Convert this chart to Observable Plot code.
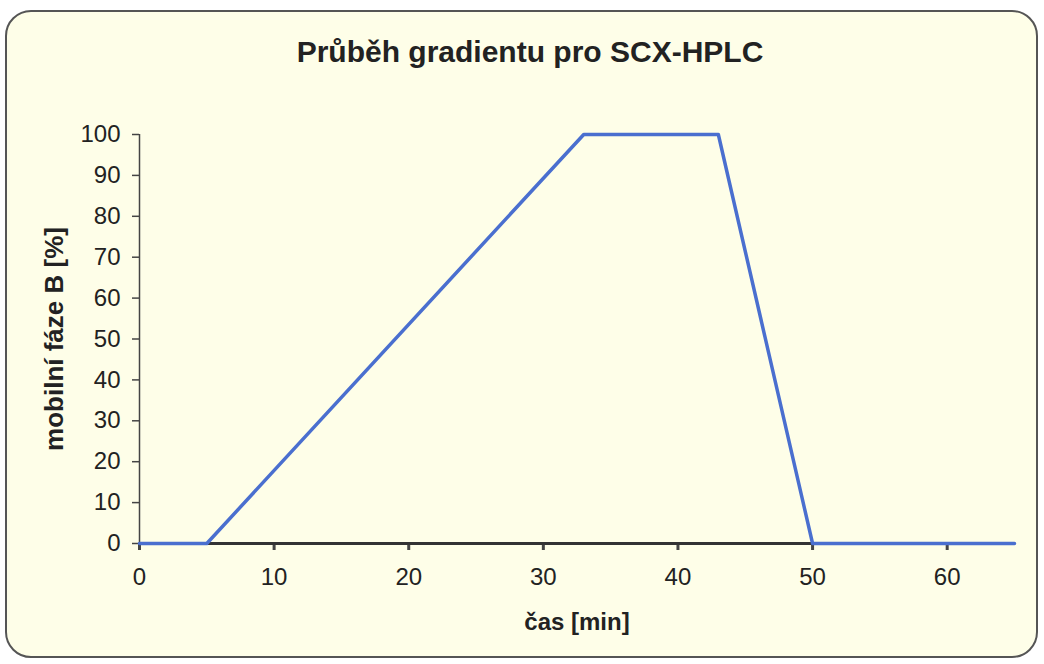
<!DOCTYPE html>
<html><head><meta charset="utf-8">
<script src="https://cdn.jsdelivr.net/npm/d3@7"></script>
<script src="https://cdn.jsdelivr.net/npm/@observablehq/plot@0.6"></script>
<style>
body{margin:0;background:#fff;}
#wrap{position:relative;width:1044px;height:664px;overflow:hidden;}
#frame{position:absolute;left:5px;top:10px;width:1033px;height:648px;border:2px solid #555;border-radius:26px;background:#fefee8;box-sizing:border-box;}
#title{position:absolute;left:0;width:1060px;top:35px;text-align:center;font:bold 30px "Liberation Sans",Arial,sans-serif;color:#222;}
#chart{position:absolute;left:0;top:0;}
#chart svg{background:transparent;}
g[aria-label="x-axis label"] text{font-weight:bold;font-size:24px !important;}
g[aria-label="y-axis label"] text{font-weight:bold;font-size:26px !important;}
</style></head>
<body><div id="wrap"><div id="frame"></div><div id="title">Průběh gradientu pro SCX-HPLC</div><div id="chart"></div></div>
<script>
const time = [0, 5, 33, 43, 50, 65];
const phaseB = [0, 0, 100, 100, 0, 0];
const xTicks = [0, 10, 20, 30, 40, 50, 60];
const yTicks = [0, 10, 20, 30, 40, 50, 60, 70, 80, 90, 100];
const data = time.map((t, i) => ({t, b: phaseB[i]}));

const chart = Plot.plot({
  width: 1044, height: 664,
  marginLeft: 139, marginRight: 30, marginTop: 134, marginBottom: 121,
  style: {fontFamily: '"Liberation Sans", Arial, sans-serif', fontSize: "24px", color: "#222", background: "transparent"},
  x: {domain: [0, 65]},
  y: {domain: [0, 100]},
  marks: [
    Plot.axisX({ticks: xTicks, tickSize: 7, tickPadding: 17, fontSize: 24, stroke: "#444", strokeWidth: 3, label: "čas [min]", labelAnchor: "center", labelOffset: 86, labelArrow: "none"}),
    Plot.axisY({ticks: yTicks, tickSize: 7, tickPadding: 12, fontSize: 24, stroke: "#444", strokeWidth: 1.5, label: "mobilní fáze B [%]", labelAnchor: "center", labelOffset: 95, labelArrow: "none"}),
    Plot.ruleX([0], {stroke: "#444", strokeWidth: 1.5}),
    Plot.ruleY([0], {stroke: "#333", strokeWidth: 3}),
    Plot.line(data, {x: "t", y: "b", stroke: "#4a6fcf", strokeWidth: 3.5})
  ]
});
document.getElementById("chart").appendChild(chart);
</script></body></html>
